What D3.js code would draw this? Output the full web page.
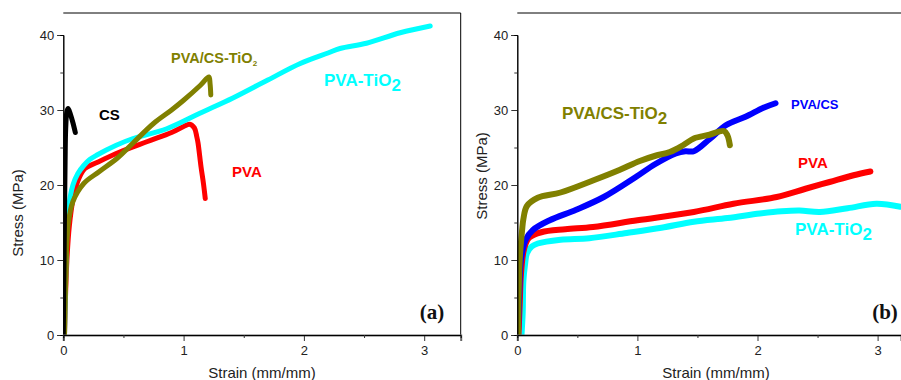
<!DOCTYPE html>
<html>
<head>
<meta charset="utf-8">
<script src="https://cdn.jsdelivr.net/npm/d3@7"></script>
<style>
  body { margin: 0; background: #fff; }
  svg { font-family: Arial, "Liberation Sans", sans-serif; }
</style>
</head>
<body>
<svg id="chart" width="901" height="380"></svg>
<script>
// ---- data (strain mm/mm, stress MPa) ----
var yTicks = [0, 10, 20, 30, 40];
var yMinor = [5, 15, 25, 35];
var xTicks = [0, 1, 2, 3];
var xMinor = [0.5, 1.5, 2.5];

// panel (a)
var csA = [[0,0],[0.005,8],[0.01,16],[0.015,23],[0.02,27.5],[0.03,29.8],[0.04,30.2],[0.06,29.4],[0.08,28.3],[0.1,27]];
var pvaA = [[0.01,0],[0.02,6],[0.03,10],[0.05,14.5],[0.08,18],[0.12,20.5],[0.18,22.2],[0.28,23],[0.47,24.4],[0.7,25.8],[0.9,27],[1.0,27.8],[1.05,28.1],[1.09,27.6],[1.11,26.4],[1.12,25.6],[1.145,22.4],[1.165,20.2],[1.18,18.2]];
var pvaTiA = [[0.01,0],[0.02,8],[0.04,16.4],[0.08,20],[0.12,21.5],[0.17,22.6],[0.22,23.4],[0.28,24],[0.44,25.3],[0.58,26.2],[0.86,27.5],[1.14,29.6],[1.41,31.6],[1.7,34],[1.97,36.2],[2.2,37.6],[2.3,38.2],[2.52,38.9],[2.8,40.3],[3.05,41.2]];
var pcTiA = [[0.01,0],[0.02,7],[0.04,14.7],[0.08,17.8],[0.17,20.2],[0.3,21.8],[0.45,23.6],[0.58,25.6],[0.75,28.2],[0.9,30],[1.0,31.3],[1.14,33.3],[1.21,34.4],[1.22,33.5],[1.226,32]];

// panel (b)
var pvaB = [[0.01,0],[0.02,4],[0.03,8],[0.05,11],[0.07,12.2],[0.1,13],[0.2,13.7],[0.4,14.1],[0.63,14.4],[1.0,15.3],[1.47,16.4],[1.8,17.5],[2.16,18.4],[2.4,19.5],[2.6,20.4],[2.8,21.3],[2.94,21.8]];
var pvaCsB = [[0.005,0],[0.015,5],[0.03,10],[0.07,12.7],[0.13,14],[0.27,15.3],[0.49,16.7],[0.72,18.4],[0.99,21.1],[1.15,22.8],[1.32,24.2],[1.4,24.5],[1.47,24.5],[1.6,26.1],[1.74,28],[1.9,29.1],[2.05,30.3],[2.15,30.9]];
var pvaTiB = [[0.035,0],[0.045,3],[0.05,7.1],[0.065,9.5],[0.08,10.9],[0.12,11.8],[0.17,12.2],[0.36,12.7],[0.6,12.9],[0.91,13.6],[1.2,14.3],[1.47,15.1],[1.75,15.6],[2.02,16.2],[2.2,16.5],[2.35,16.6],[2.52,16.4],[2.75,16.9],[2.99,17.5],[3.19,17.1]];
var pcTiB = [[0.005,0],[0.02,10],[0.04,14],[0.05,15.4],[0.08,17.2],[0.17,18.3],[0.36,19],[0.63,20.6],[0.85,22],[1.02,23.2],[1.15,23.9],[1.27,24.4],[1.38,25.3],[1.47,26.2],[1.6,26.7],[1.72,27.2],[1.75,26.6],[1.77,25.3]];

var svg = d3.select("#chart");

function panel(opts) {
  var x = d3.scaleLinear().domain([0, opts.xMax]).range([opts.left, opts.right]);
  var y = d3.scaleLinear().domain([0, 40]).range([335, 35]);
  var g = svg.append("g");

  var clipId = "clip" + opts.id;
  svg.append("clipPath").attr("id", clipId)
    .append("rect").attr("x", opts.left).attr("y", 13)
    .attr("width", opts.right - opts.left).attr("height", 335 - 13);

  // frame top / right
  g.append("line").attr("x1", opts.left).attr("x2", opts.right).attr("y1", 13).attr("y2", 13)
    .attr("stroke", "#000").attr("stroke-width", 1);
  if (opts.rightSpine) {
    g.append("line").attr("x1", opts.right).attr("x2", opts.right).attr("y1", 13).attr("y2", 335)
      .attr("stroke", "#000").attr("stroke-width", 1);
  }

  // curves
  var line = d3.line().x(function(d){ return x(d[0]); }).y(function(d){ return y(d[1]); })
    .curve(d3.curveCatmullRom.alpha(0.5));
  var cg = g.append("g").attr("clip-path", "url(#" + clipId + ")");
  opts.series.forEach(function(s) {
    cg.append("path").attr("d", line(s.data)).attr("fill", "none")
      .attr("stroke", s.color).attr("stroke-width", s.w || 5)
      .attr("stroke-linecap", "round").attr("stroke-linejoin", "round");
  });

  // axes
  g.append("g").attr("transform", "translate(" + opts.left + ",0)")
    .call(d3.axisLeft(y).tickValues(yTicks).tickSize(6).tickPadding(3).tickFormat(d3.format("d")));
  g.append("g").attr("transform", "translate(" + opts.left + ",0)")
    .call(d3.axisLeft(y).tickValues(yMinor).tickSize(3).tickFormat(""));
  var xa = g.append("g").attr("transform", "translate(0,335)")
    .call(d3.axisBottom(x).tickValues(xTicks).tickSize(6).tickPadding(3).tickFormat(d3.format("d")));
  g.append("g").attr("transform", "translate(0,335)")
    .call(d3.axisBottom(x).tickValues(xMinor).tickSize(3).tickFormat(""));

  g.selectAll(".domain").attr("stroke", "#000");
  xa.select(".domain").attr("stroke", "#666").attr("stroke-width", 2);
  g.selectAll(".tick line").attr("stroke", "#333");
  g.selectAll(".tick text").attr("font-size", 13).attr("fill", "#222")
    .attr("font-family", "Arial, 'Liberation Sans', sans-serif");
  xa.selectAll(".tick text").attr("dy", "0.85em");

  // axis titles
  g.append("text").attr("transform", "translate(" + opts.yTitleX + "," + opts.yTitleY + ") rotate(-90)")
    .attr("text-anchor", "middle").attr("font-size", 15).attr("fill", "#222").text("Stress (MPa)");
  g.append("text").attr("x", opts.xTitleX).attr("y", 378)
    .attr("text-anchor", "middle").attr("font-size", 15).attr("fill", "#222").text("Strain (mm/mm)");

  // panel tag
  g.append("text").attr("x", opts.tagX).attr("y", 319).attr("text-anchor", "middle")
    .attr("font-family", "'Liberation Serif', 'DejaVu Serif', serif").attr("font-weight", "bold")
    .attr("font-size", 21).attr("fill", "#111").text(opts.tag);

  // curve labels
  opts.labels.forEach(function(l) {
    var t = g.append("text").attr("x", l.x).attr("y", l.y).attr("font-weight", "bold")
      .attr("font-size", l.size).attr("fill", l.color);
    t.append("tspan").text(l.text);
    if (l.sub) {
      t.append("tspan").attr("font-size", l.subSize).attr("dy", l.subDy).text(l.sub);
    }
  });
}

panel({
  id: "a", left: 63.3, right: 460.7, xMax: (460.7 - 63.3) / 120.3, rightSpine: true,
  yTitleX: 23, yTitleY: 213, xTitleX: 262, tagX: 432, tag: "(a)",
  series: [
    {data: pvaA, color: "#ff0000"},
    {data: pvaTiA, color: "#00ffff"},
    {data: pcTiA, color: "#808000"},
    {data: csA, color: "#000000"}
  ],
  labels: [
    {x: 99, y: 120, text: "CS", size: 15, color: "#000"},
    {x: 171, y: 63, text: "PVA/CS-TiO", sub: "2", size: 14.5, subSize: 8, subDy: 3, color: "#808000"},
    {x: 324, y: 86, text: "PVA-TiO", sub: "2", size: 17, subSize: 17, subDy: 5, color: "#00ffff"},
    {x: 232, y: 177, text: "PVA", size: 15, color: "#ff0000"}
  ]
});

panel({
  id: "b", left: 517.3, right: 901, xMax: (901 - 517.3) / 120.1, rightSpine: false,
  yTitleX: 487, yTitleY: 176, xTitleX: 716, tagX: 885, tag: "(b)",
  series: [
    {data: pvaTiB, color: "#00ffff", w: 6},
    {data: pvaB, color: "#ff0000", w: 6},
    {data: pvaCsB, color: "#0000ff", w: 6},
    {data: pcTiB, color: "#808000", w: 6}
  ],
  labels: [
    {x: 562, y: 119, text: "PVA/CS-TiO", sub: "2", size: 17, subSize: 17, subDy: 5, color: "#808000"},
    {x: 791, y: 109, text: "PVA/CS", size: 13, color: "#0000ff"},
    {x: 798, y: 168, text: "PVA", size: 15, color: "#ff0000"},
    {x: 795, y: 235, text: "PVA-TiO", sub: "2", size: 17, subSize: 17, subDy: 5, color: "#00ffff"}
  ]
});
</script>
</body>
</html>
